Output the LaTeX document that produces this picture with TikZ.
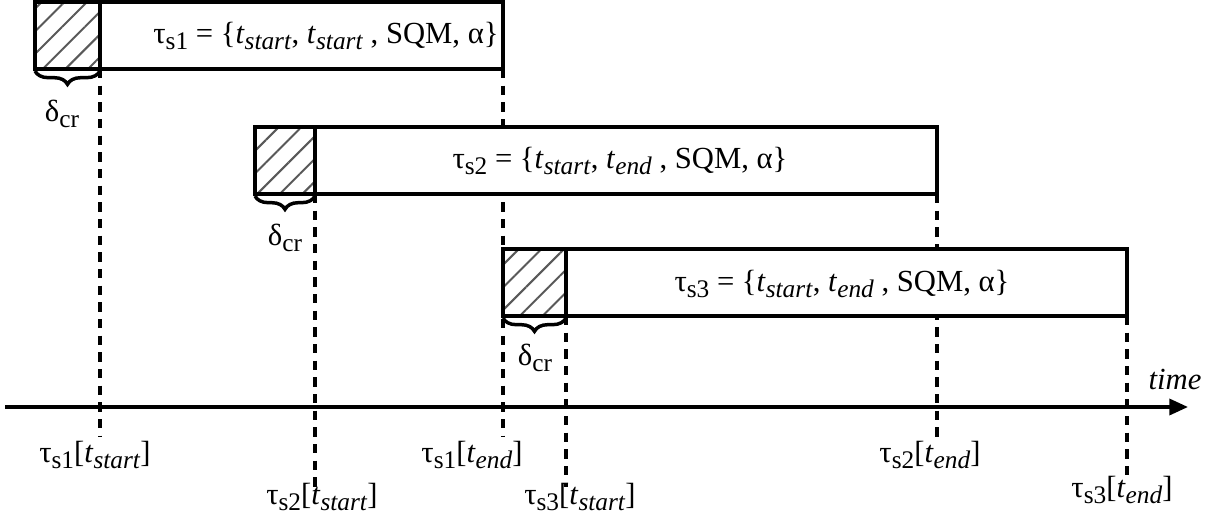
\documentclass[tikz,border=0pt]{standalone}
\usepackage{fontspec}
\setmainfont{Liberation Serif}
\usetikzlibrary{patterns.meta,decorations.pathreplacing,arrows.meta}
\newcommand{\tsk}[1]{τ\raisebox{-0.4ex}{\fontsize{19}{19}\selectfont s#1}}
\newcommand{\tsub}[1]{\textit{t}\raisebox{-0.4ex}{\fontsize{19}{19}\selectfont\textit{#1}}}
\newcommand{\dcr}{δ\raisebox{-0.4ex}{\fontsize{19}{19}\selectfont cr}}
\begin{document}
\begin{tikzpicture}[x=0.75pt,y=-0.75pt,
  lbl/.style={inner sep=0pt,font=\fontsize{23}{27}\selectfont},
  taskbox/.style={draw,line width=2.8pt},
  hatch/.style={pattern={Lines[angle=45,distance=12pt,line width=1.5pt]},pattern color=black!65},
  guide/.style={line width=2.4pt,dash pattern=on 7pt off 5.5pt},
  brc/.style={decorate,decoration={brace,mirror,amplitude=10pt},line width=2.6pt}]
\useasboundingbox (0,0) rectangle (1207,519);
% task boxes
\coordinate (b1nw) at (35,2);   \coordinate (b1h) at (100,69); \coordinate (b1se) at (503,69);
\coordinate (b2nw) at (255,127);\coordinate (b2h) at (315,194);\coordinate (b2se) at (937,194);
\coordinate (b3nw) at (503,249);\coordinate (b3h) at (566,316);\coordinate (b3se) at (1127,316);
% guide lines
\coordinate (g1a) at (100,69);  \coordinate (g1b) at (100,437);
\coordinate (g2a) at (503,69);  \coordinate (g2b) at (503,437);
\coordinate (g3a) at (315,194); \coordinate (g3b) at (315,487);
\coordinate (g4a) at (937,194); \coordinate (g4b) at (937,440);
\coordinate (g5a) at (566,316); \coordinate (g5b) at (566,487);
\coordinate (g6a) at (1127,316);\coordinate (g6b) at (1127,480);
\foreach \a/\b in {g1a/g1b,g2a/g2b,g3a/g3b,g4a/g4b,g5a/g5b,g6a/g6b}
  \draw[guide] (\a) -- (\b);
% hatched parts
\fill[white] (b1nw) rectangle (b1se);
\fill[white] (b2nw) rectangle (b2se);
\fill[white] (b3nw) rectangle (b3se);
\fill[hatch] (b1nw) rectangle (b1h);
\fill[hatch] (b2nw) rectangle (b2h);
\fill[hatch] (b3nw) rectangle (b3h);
\draw[taskbox] (b1nw) rectangle (b1se);
\draw[taskbox] (b2nw) rectangle (b2se);
\draw[taskbox] (b3nw) rectangle (b3se);
\draw[taskbox] (100,2) -- (b1h);
\draw[taskbox] (315,127) -- (b2h);
\draw[taskbox] (566,249) -- (b3h);
% braces
\draw[brc] (35,71) -- (100,71);
\draw[brc] (255,196) -- (315,196);
\draw[brc] (503,318) -- (566,318);
\node[lbl] (d1) at (62,114) {\dcr};
\node[lbl] (d2) at (285,238) {\dcr};
\node[lbl] (d3) at (535,358) {\dcr};
% box texts
\node[lbl] (t1) at (326,36) {\tsk{1} = \{\tsub{start}, \tsub{start} , SQM, α\}};
\node[lbl] (t2) at (620,161) {\tsk{2} = \{\tsub{start}, \tsub{end} , SQM, α\}};
\node[lbl] (t3) at (842,284) {\tsk{3} = \{\tsub{start}, \tsub{end} , SQM, α\}};
% time axis
\coordinate (ax0) at (5,407); \coordinate (ax1) at (1188,407);
\draw[line width=2.6pt,-{Triangle[length=14pt,width=12pt]}] (ax0) -- (ax1);
\node[lbl] (time) at (1175,379) {\textit{time}};
% axis labels
\node[lbl] (l1) at (95,455) {\tsk{1}[\tsub{start}]};
\node[lbl] (l2) at (472,455) {\tsk{1}[\tsub{end}]};
\node[lbl] (l3) at (322,497) {\tsk{2}[\tsub{start}]};
\node[lbl] (l4) at (580,497) {\tsk{3}[\tsub{start}]};
\node[lbl] (l5) at (930,455) {\tsk{2}[\tsub{end}]};
\node[lbl] (l6) at (1122,490) {\tsk{3}[\tsub{end}]};
\end{tikzpicture}
\end{document}
